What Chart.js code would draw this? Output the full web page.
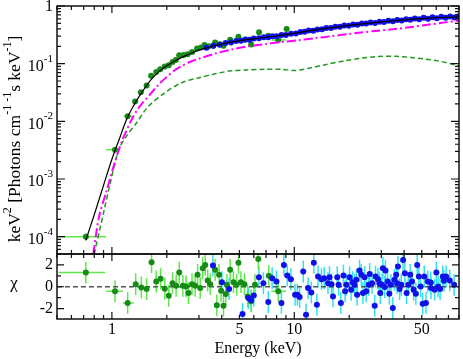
<!DOCTYPE html>
<html><head><meta charset="utf-8">
<script src="https://cdn.jsdelivr.net/npm/chart.js"></script>
<style>html,body{margin:0;padding:0;background:#fff;}canvas{display:block;}</style>
</head><body>
<canvas id="c" width="463" height="359"></canvas>
<script>
// ---------- model curves ----------
const totalE = [0.72,0.8,0.9,1.0,1.1,1.2,1.3,1.4,1.5,1.6,1.7,1.8,2.0,2.2,2.5,2.8,3.0,3.5,4.0,4.5,5.0,6.0,7.0,8.0,10,12,15,20,25,30,40,50,60,70,80];
const totalF = [8.7e-5,2.4e-4,7.8e-4,2.2e-3,5.0e-3,0.0105,0.0175,0.026,0.036,0.048,0.060,0.072,0.092,0.110,0.135,0.158,0.172,0.198,0.218,0.236,0.250,0.270,0.287,0.302,0.335,0.370,0.410,0.460,0.500,0.530,0.575,0.605,0.625,0.638,0.645];
const dashDotE = [0.79,0.85,0.94,1.05,1.15,1.27,1.4,1.6,1.8,2.0,2.2,2.4,2.7,3.0,3.7,4.5,5.5,6.9,8.5,10.5,13,16,20,23.3,28,35.4,44,54,66,80];
const dashDotF = [5e-5,2.2e-4,6.6e-4,2.2e-3,5.0e-3,0.010,0.017,0.028,0.043,0.059,0.076,0.090,0.108,0.122,0.150,0.175,0.198,0.218,0.237,0.255,0.277,0.300,0.327,0.348,0.370,0.398,0.432,0.473,0.515,0.560];
const dashE = [0.8,0.9,0.98,1.09,1.2,1.35,1.59,1.96,2.42,3.0,3.7,4.5,5.5,6.9,8.5,10.1,12.4,15,18.9,23,28.7,36,43.6,52,61,70,80];
const dashF = [5e-5,2.6e-4,8.6e-4,3.2e-3,5.5e-3,9.0e-3,0.0184,0.0315,0.047,0.057,0.067,0.075,0.078,0.080,0.080,0.076,0.085,0.097,0.112,0.124,0.133,0.134,0.128,0.120,0.112,0.102,0.092];

// ---------- spectrum data (top panel) ----------
const greenE = [0.72,1.04,1.22,1.34,1.44,1.55,1.64,1.75,1.84,1.95,2.05,2.15,2.24,2.34,2.47,2.6,2.75,2.93,3.08,3.22,3.39,3.6,3.68,3.92,4.09,4.45,4.94,5.37,5.8,6.41,7.2,8.17,9.08];
const greenF = [1.0e-4,3.2e-3,0.0123,0.022,0.032,0.042,0.062,0.072,0.080,0.089,0.094,0.107,0.116,0.140,0.142,0.146,0.160,0.184,0.190,0.210,0.200,0.205,0.233,0.218,0.205,0.260,0.292,0.260,0.215,0.350,0.305,0.256,0.400];
const greenFerr = [1.5e-5,3e-4,0.001,0.0015,0.002,0.0025,0.003,0.004,0.004,0.004,0.005,0.005,0.006,0.007,0.007,0.008,0.008,0.009,0.010,0.011,0.011,0.012,0.014,0.014,0.014,0.017,0.020,0.020,0.020,0.030,0.030,0.025,0.040];
const greenElo = [0.5,0.93,1.16,null,null,null,null,null,null,null,null,null,null,null,null,null,null,null,null,null,null,null,null,null,null,null,null,null,null,null,null,7.5,null];
const greenEhi = [0.93,1.07,1.29,null,null,null,null,null,null,null,null,null,null,null,null,null,null,null,null,null,null,null,null,null,null,null,null,null,null,null,null,9.0,null];

const blueE = [3.3,3.6,3.9,4.2,4.5,4.8,5.1,5.4,5.7,6.0,6.4,6.8,7.2,7.6,8.0,8.5,9.0,9.6,10.2,10.8,11.4,12.0,12.7,13.4,14.2,15.0,15.9,16.8,17.8,18.8,19.9,21.0,22.2,23.5,24.8,26.2,27.7,29.3,31.0,32.8,34.7,36.7,38.8,41.0,43.3,45.8,48.4,51.2,54.1,57.2,60.5,64.0,67.6,71.5,75.6,79.0];
const blueF = [0.188,0.205,0.212,0.228,0.233,0.248,0.250,0.262,0.260,0.274,0.275,0.288,0.286,0.299,0.298,0.313,0.314,0.331,0.334,0.354,0.356,0.375,0.374,0.392,0.395,0.415,0.416,0.437,0.436,0.457,0.455,0.478,0.474,0.498,0.495,0.518,0.508,0.535,0.527,0.556,0.545,0.573,0.558,0.592,0.577,0.607,0.588,0.624,0.600,0.638,0.614,0.650,0.625,0.658,0.632,0.655];

// ---------- residuals (bottom panel) ----------
const resGreenE = [0.72,1.04,1.22,1.35,1.45,1.55,1.65,1.75,1.85,1.95,2.05,2.15,2.25,2.34,2.45,2.55,2.63,2.75,2.86,2.95,3.05,3.15,3.25,3.35,3.46,3.68,3.76,3.87,3.97,4.09,4.21,4.27,4.45,4.64,4.83,4.94,5.1,5.33,5.55,5.8,6.09,6.35,7.25,8.17];
const resGreenChi = [1.3,-0.42,-1.48,0.24,-0.06,-0.21,2.24,0.48,0.73,-0.18,-0.82,0.33,0.09,1.3,0.09,0.03,-0.58,0.24,0.09,1.09,-0.12,1.7,2.0,0.58,0.24,1.55,-1.7,1.09,-0.36,-1.73,-0.67,0.18,1.55,0.42,0.18,2.2,0.42,0.24,-0.88,-1.33,0.18,2.55,1.0,-0.42];
const resGreenElo = [0.51,0.93,1.15,null,null,null,null,null,null,null,null,null,null,null,null,null,null,null,null,null,null,null,null,null,null,null,null,null,null,null,null,null,null,null,null,null,null,null,null,null,null,null,null,7.5];
const resGreenEhi = [0.92,1.15,1.32,null,null,null,null,null,null,null,null,null,null,null,null,null,null,null,null,null,null,null,null,null,null,null,null,null,null,null,null,null,null,null,null,null,null,null,null,null,null,null,null,9.0];

const resBlueE = [3.58,4.01,4.39,5.2,5.6,5.8,6.0,6.4,6.77,7.2,7.56,7.98,8.5,8.77,9.15,9.58,10.1,10.4,10.7,11.2,11.6,11.9,12.4,12.8,13.3,13.5,14.1,14.6,15.3,15.6,16.0,16.3,17.2,17.5,18.0,18.6,19.0,19.3,20.1,20.5,20.9,21.4,21.9,22.1,22.8,23.3,23.8,24.3,24.8,25.6,25.9,26.7,27.6,27.9,28.8,29.3,29.6,30.3,30.6,31.3,31.6,32.5,33.2,33.9,34.7,35.4,36.2,36.6,37.0,37.8,38.6,39.5,40.4,41.3,42.2,43.2,44.2,45.1,46.4,47.2,48.2,49.3,50.6,51.6,52.7,53.9,56.0,56.2,58.8,60.1,61.4,63.0,65.2,66.1,68.0,71.2,75.2];
const resBlueChi = [1.94,0.42,-0.2,-2.5,-1.03,-1.24,-0.8,0.88,0.33,-1.4,0.79,0.48,-1.48,2.0,1.03,0.7,-0.73,-0.73,-0.94,1.39,-2.55,-0.12,-0.52,2.2,-1.64,0.94,0.7,0.79,0.33,0.88,0.24,-0.88,0.88,0.18,-1.48,1.03,-0.42,0.18,0.88,-0.27,0.42,0.18,0.64,-0.73,1.48,1.09,-0.58,0.88,-0.42,0.18,1.18,0.33,-1.73,0.94,0.7,0.33,-0.58,0.18,1.7,-0.03,1.48,0.48,-0.64,0.18,-1.94,0.64,1.09,0.33,1.85,-0.21,0.18,2.45,1.24,-0.58,0.18,1.09,0.48,-0.27,-0.64,2.0,0.94,0.03,-1.55,0.94,-1.48,0.48,0.39,-0.12,-0.27,1.3,0.03,-0.2,0.94,0.55,0.94,0.58,0.18];
const chiErr = 1.0;

// ---------- axis ticks ----------
const xTickVals = [1,5,10,50];
const xTickLabels = ['1','5','10','50'];
const xTickMarks = [0.5,0.6,0.7,0.8,0.9,1,2,3,4,5,6,7,8,9,10,20,30,40,50,60,70,80];
const xMajor = [1,10];
const yTickVals = [1,1e-1,1e-2,1e-3,1e-4];
const yTickBase = ['1','10','10','10','10'];
const yTickExp = ['','-1','-2','-3','-4'];
const rTickVals = [2,0,-2];
const rTickLabels = ['2','0','-2'];
const rTickMarks = [-2,-1,0,1,2];

const FONT = '"Liberation Serif","Times New Roman",serif';
const pts = (xs, ys) => xs.map((x, i) => ({x: x, y: ys[i]}));

const decor = {
  id: 'decor',
  beforeDatasetsDraw(chart) {
    const ctx = chart.ctx, xs = chart.scales.x;
    chart.data.datasets.forEach(ds => {
      if (!ds.err) return;
      const ys = chart.scales[ds.yAxisID];
      ctx.save();
      ctx.beginPath(); ctx.rect(xs.left, ys.top, xs.right - xs.left, ys.bottom - ys.top); ctx.clip();
      ctx.strokeStyle = ds.err.color; ctx.lineWidth = ds.err.width;
      ds.data.forEach((p, i) => {
        const px = xs.getPixelForValue(p.x), py = ys.getPixelForValue(p.y);
        ctx.beginPath();
        const a = ys.getPixelForValue(ds.err.ylo[i]), b = ys.getPixelForValue(ds.err.yhi[i]);
        ctx.moveTo(px, a); ctx.lineTo(px, b);
        if (ds.err.xlo && ds.err.xlo[i] != null) {
          ctx.moveTo(xs.getPixelForValue(ds.err.xlo[i]), py);
          ctx.lineTo(xs.getPixelForValue(ds.err.xhi[i]), py);
        }
        ctx.stroke();
      });
      ctx.restore();
    });
  },
  afterDatasetsDraw(chart) {
    const ctx = chart.ctx, xs = chart.scales.x, yt = chart.scales.y, yr = chart.scales.yr;
    ctx.save();
    ctx.strokeStyle = '#111'; ctx.lineWidth = 1.5;
    const L = xs.left, R = xs.right;
    [yt, yr].forEach(ys => {
      ctx.strokeRect(L, ys.top, R - L, ys.bottom - ys.top);
    });
    ctx.lineWidth = 1.2;
    ctx.beginPath();
    [yt, yr].forEach(ys => {
      const T = ys.top, B = ys.bottom;
      xTickMarks.forEach(v => {
        const p = xs.getPixelForValue(v);
        const len = xMajor.includes(v) ? 7 : 4;
        ctx.moveTo(p, T); ctx.lineTo(p, T + len);
        ctx.moveTo(p, B); ctx.lineTo(p, B - len);
      });
    });
    for (let d = -5; d <= 0; d++) {
      for (let m = 1; m <= 9; m++) {
        const v = m * Math.pow(10, d);
        if (v < yt.min * 0.999 || v > yt.max * 1.001) continue;
        const p = yt.getPixelForValue(v);
        const len = m === 1 ? 8 : 4;
        ctx.moveTo(L, p); ctx.lineTo(L + len, p);
        ctx.moveTo(R, p); ctx.lineTo(R - len, p);
      }
    }
    rTickMarks.forEach(v => {
      const p = yr.getPixelForValue(v);
      const len = (v % 2 === 0) ? 7 : 4;
      ctx.moveTo(L, p); ctx.lineTo(L + len, p);
      ctx.moveTo(R, p); ctx.lineTo(R - len, p);
    });
    ctx.stroke();

    ctx.fillStyle = '#000';
    ctx.textBaseline = 'middle';
    ctx.font = '16px ' + FONT;
    ctx.textAlign = 'center';
    xTickVals.forEach((v, i) => ctx.fillText(xTickLabels[i], xs.getPixelForValue(v), 330));
    ctx.fillText('Energy (keV)', (L + R) / 2, 349);
    const rx = 53;
    yTickVals.forEach((v, i) => {
      const p = yt.getPixelForValue(v);
      if (!yTickExp[i]) {
        ctx.font = '16px ' + FONT; ctx.textAlign = 'right';
        ctx.fillText(yTickBase[i], rx, p + 1);
      } else {
        ctx.font = '11px ' + FONT;
        const we = ctx.measureText(yTickExp[i]).width;
        ctx.textAlign = 'left';
        ctx.fillText(yTickExp[i], rx - we, p - 5);
        ctx.font = '16px ' + FONT;
        const wb = ctx.measureText(yTickBase[i]).width;
        ctx.fillText(yTickBase[i], rx - we - wb, p + 3);
      }
    });
    ctx.font = '16px ' + FONT; ctx.textAlign = 'right';
    rTickVals.forEach((v, i) => ctx.fillText(rTickLabels[i], rx, yr.getPixelForValue(v)));
    ctx.textAlign = 'center';
    ctx.font = '17px ' + FONT;
    ctx.fillText('\u03c7', 14, yr.getPixelForValue(0) - 3);

    const parts = [['keV',0],['2',1],[' [Photons cm',0],['-1',1],[' -1',1],['s keV',0],['-1',1],[']',0]];
    ctx.save();
    ctx.translate(14, 139);
    ctx.rotate(-Math.PI / 2);
    let total = 0;
    parts.forEach(pp => { ctx.font = (pp[1] ? '12px ' : '17.5px ') + FONT; total += ctx.measureText(pp[0]).width; });
    let x0 = -total / 2;
    ctx.textAlign = 'left';
    parts.forEach(pp => {
      ctx.font = (pp[1] ? '12px ' : '17.5px ') + FONT;
      ctx.fillText(pp[0], x0, pp[1] ? -6 : 1);
      x0 += ctx.measureText(pp[0]).width;
    });
    ctx.restore();
    ctx.restore();
  }
};

const G_PT = '#168c16', G_ERR = '#5ee84a', B_PT = '#1010e8', B_ERR = '#30e0f0';

new Chart(document.getElementById('c'), {
  type: 'scatter',
  data: {
    datasets: [
      {label: 'total', data: pts(totalE, totalF), yAxisID: 'y', showLine: true, borderColor: '#000', borderWidth: 1.2, pointRadius: 0, tension: 0.3, order: 0},
      {label: 'comp1', data: pts(dashDotE, dashDotF), yAxisID: 'y', showLine: true, borderColor: '#ff00ff', borderWidth: 2, borderDash: [9,3,2,3], pointRadius: 0, tension: 0.3, order: 1},
      {label: 'comp2', data: pts(dashE, dashF), yAxisID: 'y', showLine: true, borderColor: '#229a22', borderWidth: 1.5, borderDash: [5,3], pointRadius: 0, tension: 0.3, order: 2},
      {label: 'blue', data: pts(blueE, blueF), yAxisID: 'y', pointRadius: 3, pointBackgroundColor: B_PT, pointBorderWidth: 0, order: 3,
        err: {color: B_ERR, width: 1.5, ylo: blueF.map(f => f * 0.97), yhi: blueF.map(f => f * 1.03)}},
      {label: 'green', data: pts(greenE, greenF), yAxisID: 'y', pointRadius: 3, pointBackgroundColor: G_PT, pointBorderWidth: 0, order: 4,
        err: {color: G_ERR, width: 1.5, ylo: greenF.map((f, i) => f - greenFerr[i]), yhi: greenF.map((f, i) => f + greenFerr[i]), xlo: greenElo, xhi: greenEhi}},
      {label: 'rblue', data: pts(resBlueE, resBlueChi), yAxisID: 'yr', pointRadius: 3, pointBackgroundColor: B_PT, pointBorderWidth: 0, order: 5,
        err: {color: B_ERR, width: 1.5, ylo: resBlueChi.map(c => c - chiErr), yhi: resBlueChi.map(c => c + chiErr)}},
      {label: 'rgreen', data: pts(resGreenE, resGreenChi), yAxisID: 'yr', pointRadius: 3, pointBackgroundColor: G_PT, pointBorderWidth: 0, order: 6,
        err: {color: G_ERR, width: 1.5, ylo: resGreenChi.map(c => c - chiErr), yhi: resGreenChi.map(c => c + chiErr), xlo: resGreenElo, xhi: resGreenEhi}},
      {label: 'zero', data: [{x: 0.5, y: 0}, {x: 80, y: 0}], yAxisID: 'yr', showLine: true, borderColor: '#555', borderWidth: 1.6, borderDash: [5,3], pointRadius: 0, order: 7}
    ]
  },
  options: {
    responsive: false, animation: false, devicePixelRatio: 1,
    layout: {padding: {left: 57, right: 2, top: 6, bottom: 40}},
    plugins: {legend: {display: false}, tooltip: {enabled: false}},
    scales: {
      x: {type: 'logarithmic', min: 0.5, max: 80, ticks: {display: false}, grid: {display: false, drawTicks: false}, border: {display: false}},
      y: {type: 'logarithmic', min: 5e-5, max: 1, stack: 'v', stackWeight: 248, weight: 1, position: 'left',
          ticks: {display: false}, grid: {display: false, drawTicks: false}, border: {display: false}},
      yr: {type: 'linear', min: -2.95, max: 3, stack: 'v', stackWeight: 65, weight: 0, position: 'left',
          ticks: {display: false}, grid: {display: false, drawTicks: false}, border: {display: false}}
    }
  },
  plugins: [decor]
});
</script>
</body></html>
